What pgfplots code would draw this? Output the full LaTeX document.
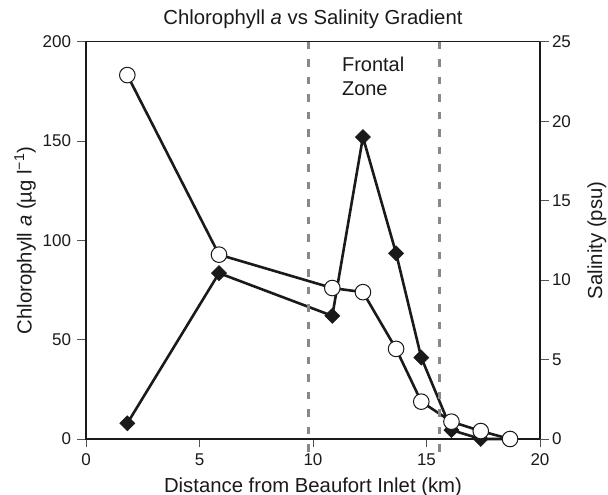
\documentclass[border=0pt]{standalone}
\usepackage{fontspec}
\setmainfont{Liberation Sans}
\usepackage{pgfplots}
\pgfplotsset{compat=1.18}

\definecolor{ink}{HTML}{1A1A1A}
\definecolor{zone}{HTML}{888888}

\pgfplotsset{
  chart/.style={
    scale only axis,
    width=454pt, height=397.3pt,
    xmin=0, xmax=20,
    tick align=outside,
    major tick length=8.5pt,
    tick style={line width=0.9pt, color=ink!75},
    axis line style={line width=1.1pt, ink},
    tick label style={font=\fontsize{17}{20}\selectfont, text=ink,
      /pgf/number format/assume math mode=true},
    label style={font=\fontsize{20.3}{24}\selectfont, text=ink},
    clip=false,
  },
  chl/.style={ink, line width=2.6pt, mark=square*, mark size=5.3pt,
    mark options={solid, rotate=45, fill=ink, line width=0.6pt}},
  sal/.style={ink, line width=2.6pt, mark=*, mark size=7.8pt,
    mark options={solid, fill=white, draw=ink, line width=1pt}},
}

\begin{document}
\begin{tikzpicture}
\path[use as bounding box] (-86pt,-56pt) rectangle (522pt,439pt);

% Chlorophyll a (left axis)
\begin{axis}[chart,
    ymin=0, ymax=200,
    xtick={0,5,...,20}, ytick={0,50,...,200},
    xtick pos=left, ytick pos=left,
    xticklabel style={yshift=-3pt},
    yticklabel style={xshift=-3pt},
    title={Chlorophyll \textit{a} vs Salinity Gradient},
    title style={font=\fontsize{20.3}{24}\selectfont, text=ink,
      at={(axis description cs:0.5,1.0294)}, anchor=base},
    xlabel={Distance from Beaufort Inlet (km)},
    xlabel style={at={(axis description cs:0.5,-0.1335)}, anchor=base},
    ylabel={Chlorophyll \textit{a} (µg l\textsuperscript{−1})},
    ylabel style={at={(axis description cs:-0.1196,0.5)}, rotate=0, anchor=base},
]
\addplot[chl] coordinates {
  (1.82,7.9) (5.86,83.5) (10.85,62) (12.2,152) (13.66,93.5)
  (14.77,41) (16.1,4.5) (17.39,0) (18.68,0)
};
\end{axis}

% Salinity (right axis)
\begin{axis}[chart,
    ymin=0, ymax=25,
    ytick={0,5,...,25},
    axis x line=none,
    axis y line*=right,
    ytick pos=right,
    ylabel={Salinity (psu)},
    ylabel style={at={(axis description cs:1.1366,0.5)}, rotate=0, anchor=base},
]
\addplot[sal] coordinates {
  (1.82,22.9) (5.86,11.6) (10.85,9.5) (12.2,9.24) (13.66,5.67)
  (14.77,2.35) (16.1,1.09) (17.39,0.5) (18.68,0)
};
\draw[zone, line width=2.6pt, dash pattern=on 7.5pt off 10pt]
  (axis cs:9.81,25) -- (axis cs:9.81,-0.8);
\draw[zone, line width=2.6pt, dash pattern=on 7.5pt off 10pt]
  (axis cs:15.56,25) -- (axis cs:15.56,-0.8);
\node[anchor=base west, font=\fontsize{20}{24}\selectfont, text=ink, inner sep=0pt]
  at (axis cs:11.27,23.11) {Frontal};
\node[anchor=base west, font=\fontsize{20}{24}\selectfont, text=ink, inner sep=0pt]
  at (axis cs:11.27,21.6) {Zone};
\end{axis}
\end{tikzpicture}
\end{document}
